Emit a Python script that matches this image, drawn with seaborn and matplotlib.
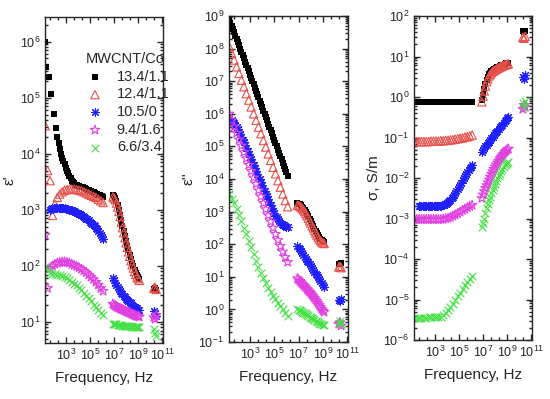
import numpy as np
import pandas as pd
import matplotlib
matplotlib.use("Agg")
import matplotlib.pyplot as plt
import matplotlib.ticker as mticker
import seaborn as sns

# ---------------- data (log10 values) ----------------
LOGF_LOW_FINE = [1.3, 1.4, 1.5, 1.6, 1.7, 1.8, 1.9, 2.0, 2.1, 2.2, 2.3, 2.4, 2.5, 2.6, 2.7, 2.8,
                 2.9, 3.0, 3.1, 3.2, 3.3, 3.4, 3.5, 3.6, 3.7, 3.8, 3.9, 4.0, 4.1, 4.2, 4.3, 4.4,
                 4.5, 4.6, 4.7, 4.8, 4.9, 5.0, 5.1, 5.2, 5.3, 5.4, 5.5, 5.6, 5.7, 5.8, 5.9, 6.0, 6.1]
LOGF_LOW_COARSE = [1.3, 1.5, 1.7, 1.9, 2.1, 2.3, 2.5, 2.7, 2.9, 3.1, 3.3, 3.5, 3.7, 3.9, 4.1,
                   4.3, 4.5, 4.7, 4.9, 5.1, 5.3, 5.5, 5.7, 5.9, 6.1]
LOGF_MID = [6.9, 7.0, 7.1, 7.2, 7.3, 7.4, 7.5, 7.6, 7.7, 7.8, 7.9, 8.0, 8.1, 8.2, 8.3, 8.4,
            8.5, 8.6, 8.7, 8.8, 8.9, 9.0, 9.1]
LOGF_HIGH = [10.3, 10.4, 10.5]

SERIES = ["13.4/1.1", "12.4/1.1", "10.5/0", "9.4/1.6", "6.6/3.4"]
FINE_SERIES = ["13.4/1.1", "10.5/0"]

# panel 1: eps'   (fine series: 49 low + 23 mid + 3 high; coarse: 25 + 23 + 3)
EPS1_BLACK = [6.0, 5.55, None, 5.37, None, 5.07, None, 4.71, None, 4.46,
              4.3, 4.19, 4.08, 4.0, 3.93, 3.87, 3.81, 3.75, 3.7, 3.65,
              3.6, 3.56, 3.52, 3.49, 3.47, 3.45, 3.44, 3.43, 3.42, 3.41,
              3.41, 3.4, 3.39, 3.38, 3.37, 3.36, 3.35, 3.34, 3.33, 3.32,
              3.31, 3.3, 3.29, 3.28, 3.27, 3.26, 3.25, 3.24, 3.22,
              3.26, 3.24, 3.21, 3.15, 3.08, 3.0, 2.91, 2.81, 2.71, 2.62, 2.53, 2.44,
              2.36, 2.28, 2.2, 2.12, 2.05, 1.99, 1.93, 1.88, 1.83, 1.8, 1.77,
              1.58, 1.6, 1.57]
EPS1_RED = [4.5, 3.7, 3.52, 2.9, 3.1, 3.22, 3.28, 3.32, 3.35, 3.36, 3.37, 3.37, 3.37, 3.36, 3.35,
            3.34, 3.32, 3.3, 3.28, 3.26, 3.24, 3.22, 3.19, 3.16, 3.13,
            3.23, 3.21, 3.18, 3.12, 3.05, 2.97, 2.88, 2.78, 2.68, 2.59, 2.5, 2.41,
            2.33, 2.25, 2.17, 2.09, 2.02, 1.96, 1.9, 1.85, 1.8, 1.77, 1.74,
            1.6, 1.62, 1.58]
EPS1_BLUE = [None, None, None, None, 3.0, 3.02, 3.03, 3.03, 3.04, 3.04,
             3.04, 3.04, 3.04, 3.04, 3.03, 3.03, 3.03, 3.02, 3.02, 3.01,
             3.0, 3.0, 2.99, 2.98, 2.97, 2.96, 2.95, 2.94, 2.93, 2.92,
             2.9, 2.89, 2.87, 2.86, 2.84, 2.83, 2.81, 2.79, 2.77, 2.75,
             2.73, 2.71, 2.68, 2.65, 2.62, 2.59, 2.55, 2.52, 2.48,
             1.78, 1.74, 1.7, 1.66, 1.62, 1.58, 1.55, 1.52, 1.49, 1.46, 1.44, 1.41,
             1.39, 1.37, 1.35, 1.33, 1.31, 1.29, 1.27, 1.25, 1.24, 1.22, 1.21,
             1.2, 1.15, 1.1]
EPS1_MAGENTA = [2.55, 1.6, 1.95, 2.0, 2.03, 2.05, 2.06, 2.07, 2.07, 2.06, 2.05, 2.03, 2.01, 1.99, 1.97,
                1.94, 1.91, 1.88, 1.84, 1.8, 1.76, 1.71, 1.66, 1.6, 1.55,
                1.32, 1.3, 1.29, 1.27, 1.26, 1.25, 1.24, 1.23, 1.22, 1.21, 1.2, 1.19,
                1.18, 1.17, 1.16, 1.15, 1.14, 1.13, 1.12, 1.11, 1.1, 1.1, 1.09,
                1.08, 1.05, 1.12]
EPS1_GREEN = [1.98, 1.92, 1.88, 1.86, 1.85, 1.84, 1.83, 1.82, 1.8, 1.78, 1.75, 1.72, 1.68, 1.65, 1.61,
              1.57, 1.52, 1.47, 1.42, 1.37, 1.31, 1.26, 1.21, 1.16, 1.12,
              0.97, 0.97, 0.96, 0.96, 0.95, 0.95, 0.94, 0.94, 0.93, 0.93, 0.93, 0.93,
              0.92, 0.92, 0.92, 0.92, 0.91, 0.91, 0.91, 0.9, 0.9, 0.9, 0.9,
              0.88, 0.8, 0.75]

# panel 2: eps''
EPS2_BLACK = [8.9, 8.8, 8.7, 8.6, 8.5, 8.4, 8.3, 8.2, 8.1, 8.0,
              7.9, 7.8, 7.7, 7.6, 7.5, 7.4, 7.3, 7.2, 7.1, 7.0,
              6.9, 6.8, 6.7, 6.6, 6.5, 6.4, 6.3, 6.2, 6.1, 6.0,
              5.9, 5.8, 5.7, 5.6, 5.5, 5.4, 5.3, 5.2, 5.1, 5.0,
              4.9, 4.8, 4.7, 4.6, 4.5, 4.4, 4.3, 4.2, 4.1,
              3.25, 3.24, 3.22, 3.19, 3.15, 3.1, 3.05, 2.99, 2.92, 2.85, 2.77, 2.7,
              2.62, 2.55, 2.47, 2.4, 2.33, 2.27, 2.21, 2.16, 2.12, 2.09, 2.07,
              1.4, 1.38, 1.42]
EPS2_RED = [8.06, 7.85, 7.65, 7.44, 7.24, 7.03, 6.83, 6.62, 6.42, 6.21, 6.0, 5.8, 5.59, 5.39, 5.18,
            4.98, 4.77, 4.57, 4.36, 4.16, 3.95, 3.75, 3.54, 3.34, 3.15,
            3.2, 3.19, 3.17, 3.14, 3.1, 3.05, 3.0, 2.94, 2.87, 2.8, 2.72, 2.65,
            2.57, 2.5, 2.42, 2.35, 2.28, 2.22, 2.16, 2.11, 2.07, 2.04, 2.02,
            1.3, 1.32, 1.28]
EPS2_BLUE = [None, None, 5.8, 5.76, 5.72, 5.66, 5.6, 5.53, 5.45, 5.38,
             5.3, 5.21, 5.12, 5.04, 4.95, 4.86, 4.77, 4.69, 4.6, 4.51,
             4.42, 4.34, 4.25, 4.16, 4.07, 3.99, 3.9, 3.81, 3.72, 3.64,
             3.55, 3.47, 3.38, 3.29, 3.2, 3.12, 3.03, 2.95, 2.88, 2.82,
             2.76, 2.71, 2.66, 2.63, 2.6, 2.58, 2.56, 2.54, 2.52,
             1.95, 1.89, 1.84, 1.78, 1.72, 1.67, 1.61, 1.55, 1.49, 1.44, 1.38, 1.32,
             1.27, 1.21, 1.15, 1.1, 1.04, 0.98, 0.92, 0.87, 0.81, 0.75, 0.7,
             0.3, 0.25, 0.32]
EPS2_MAGENTA = [6.0, 5.8, 5.6, 5.41, 5.21, 5.02, 4.82, 4.63, 4.43, 4.24, 4.04, 3.85, 3.65, 3.46, 3.26,
                3.07, 2.88, 2.69, 2.5, 2.31, 2.12, 1.94, 1.77, 1.6, 1.45,
                0.95, 0.91, 0.87, 0.83, 0.79, 0.75, 0.71, 0.67, 0.62, 0.58, 0.54, 0.5,
                0.45, 0.4, 0.35, 0.3, 0.25, 0.19, 0.13, 0.07, 0.01, -0.04, -0.08,
                -0.45, -0.4, -0.5]
EPS2_GREEN = [3.55, 3.4, 3.25, 3.08, 2.9, 2.7, 2.5, 2.3, 2.1, 1.9, 1.7, 1.5, 1.3, 1.12, 0.95,
              0.8, 0.66, 0.54, 0.42, 0.31, 0.2, 0.1, 0.0, -0.1, -0.2,
              0.0, -0.01, -0.03, -0.05, -0.07, -0.1, -0.12, -0.15, -0.17, -0.2, -0.22, -0.25,
              -0.27, -0.3, -0.32, -0.35, -0.37, -0.4, -0.42, -0.44, -0.45, -0.47, -0.48,
              -0.43, -0.35, -0.45]

# panel 3: sigma
SIG_BLACK = [-0.12, -0.13, -0.13, -0.13, -0.13, -0.13, -0.13, -0.13, -0.13, -0.13,
             -0.13, -0.13, -0.13, -0.13, -0.13, -0.13, -0.13, -0.13, -0.13, -0.13,
             -0.13, -0.13, -0.13, -0.13, -0.13, -0.13, -0.13, -0.13, -0.13, -0.13,
             -0.13, -0.13, -0.13, -0.13, -0.13, -0.13, -0.13, -0.13, -0.13, -0.13,
             -0.13, -0.13, -0.13, -0.13, -0.13, -0.13, -0.13, -0.13, -0.13,
             -0.08, 0.06, 0.2, 0.31, 0.42, 0.49, 0.56, 0.6, 0.63, 0.66, 0.68, 0.7,
             0.72, 0.74, 0.75, 0.77, 0.78, 0.79, 0.8, 0.82, 0.83, 0.84, 0.85,
             1.64, 1.6, 1.62]
SIG_RED = [-1.1, -1.1, -1.1, -1.1, -1.1, -1.1, -1.1, -1.09, -1.09, -1.09, -1.09, -1.08, -1.08,
           -1.07, -1.07, -1.06, -1.05, -1.04, -1.03, -1.02, -1.01, -0.99, -0.98, -0.96, -0.94,
           -0.12, 0.02, 0.15, 0.27, 0.38, 0.45, 0.52, 0.56, 0.6, 0.63, 0.65, 0.67,
           0.69, 0.71, 0.72, 0.74, 0.75, 0.77, 0.78, 0.79, 0.8, 0.81, 0.82,
           1.47, 1.45, 1.5]
SIG_BLUE = [None, None, None, None, -2.68, -2.68, -2.68, -2.68, -2.68, -2.68,
            -2.68, -2.68, -2.68, -2.68, -2.68, -2.68, -2.68, -2.68, -2.68, -2.68,
            -2.68, -2.68, -2.68, -2.675, -2.67, -2.66, -2.64, -2.62, -2.6, -2.57,
            -2.54, -2.5, -2.46, -2.42, -2.37, -2.32, -2.27, -2.22, -2.17, -2.12,
            -2.06, -2.0, -1.95, -1.9, -1.85, -1.8, -1.76, -1.72, -1.68,
            -1.35, -1.31, -1.27, -1.22, -1.18, -1.14, -1.1, -1.06, -1.02, -0.98, -0.94, -0.9,
            -0.86, -0.83, -0.79, -0.75, -0.71, -0.68, -0.64, -0.6, -0.57, -0.53, -0.5,
            0.5, 0.45, 0.55]
SIG_MAGENTA = [-3.02, -3.02, -3.02, -3.02, -3.02, -3.02, -3.02, -3.02, -3.02, -3.02, -3.02, -3.02, -3.02,
               -3.0, -2.99, -2.97, -2.94, -2.91, -2.88, -2.84, -2.8, -2.77, -2.73, -2.7, -2.67,
               -2.5, -2.41, -2.33, -2.25, -2.18, -2.11, -2.04, -1.97, -1.9, -1.84, -1.78, -1.72,
               -1.67, -1.62, -1.57, -1.52, -1.48, -1.44, -1.4, -1.36, -1.33, -1.3, -1.28,
               -0.3, -0.2, -0.25]
SIG_GREEN = [-5.45, -5.45, -5.45, -5.45, -5.45, -5.45, -5.44, -5.44, -5.44, -5.44, -5.44,
             -5.42, -5.38, -5.33, -5.26, -5.18, -5.1, -5.01, -4.92, -4.83, -4.74, -4.65, -4.57, -4.49, -4.42,
             -3.2, -3.1, -3.0, -2.87, -2.75, -2.65, -2.55, -2.46, -2.38, -2.3, -2.22, -2.15,
             -2.08, -2.01, -1.95, -1.89, -1.83, -1.77, -1.72, -1.68, -1.65, -1.62, -1.6,
             -0.15, -0.25, -0.1]

X_TICKS = [1e3, 1e5, 1e7, 1e9, 1e11]
XLABEL = "Frequency, Hz"
YLABELS = ["\u03b5'", "\u03b5''", "\u03c3, S/m"]
LEGEND_TITLE = "MWCNT/Co"

# ---------------- style ----------------
sns.set_style("ticks")
plt.rcParams["font.family"] = ["Liberation Sans", "DejaVu Sans"]
plt.rcParams["mathtext.fontset"] = "custom"
plt.rcParams["mathtext.rm"] = "Liberation Sans"
plt.rcParams["mathtext.it"] = "Liberation Sans:italic"

STYLES = [
    dict(marker="s", s=18, color="#000000", linewidth=0),
    dict(marker="^", s=36, facecolor="none", edgecolor="#e8504a", linewidth=0.8),
    dict(marker=(8, 2, 0), s=34, color="#2020ff", linewidth=0.8),
    dict(marker="*", s=50, facecolor="none", edgecolor="#e040e0", linewidth=0.8),
    dict(marker="x", s=30, color="#44e044", linewidth=0.8),
]

panels = [
    [EPS1_BLACK, EPS1_RED, EPS1_BLUE, EPS1_MAGENTA, EPS1_GREEN],
    [EPS2_BLACK, EPS2_RED, EPS2_BLUE, EPS2_MAGENTA, EPS2_GREEN],
    [SIG_BLACK, SIG_RED, SIG_BLUE, SIG_MAGENTA, SIG_GREEN],
]
ylims = [(4.2, 2.75e6), (1e-1, 1e9), (1e-6, 1e2)]
rects = [
    [45 / 550, 1 - 343 / 399, 118 / 550, 326 / 399],
    [229 / 550, 1 - 342 / 399, 119 / 550, 326 / 399],
    [414 / 550, 1 - 340 / 399, 118 / 550, 324 / 399],
]

fig = plt.figure(figsize=(5.5, 3.99), dpi=100)
freq_fine = 10.0 ** np.array(LOGF_LOW_FINE + LOGF_MID + LOGF_HIGH)
freq_coarse = 10.0 ** np.array(LOGF_LOW_COARSE + LOGF_MID + LOGF_HIGH)

for pi, (series_vals, rect) in enumerate(zip(panels, rects)):
    ax = fig.add_axes(rect)
    for name, vals, st in zip(SERIES, series_vals, STYLES):
        f = freq_fine if name in FINE_SERIES else freq_coarse
        v = np.array(vals, dtype=float)
        df = pd.DataFrame({"f": f, "v": 10.0 ** v}).dropna()
        sns.scatterplot(data=df, x="f", y="v", ax=ax, label=name, legend=False, **st)
    ax.set_xscale("log")
    ax.set_yscale("log")
    ax.set_xlim(19, 1.15e11)
    ax.set_ylim(*ylims[pi])
    ax.xaxis.set_major_locator(mticker.FixedLocator(X_TICKS))
    minors = []
    for e in [1, 3, 5, 7, 9]:
        minors += [10 ** (e + 2 / 3), 10 ** (e + 4 / 3)]
    ax.xaxis.set_minor_locator(mticker.FixedLocator(minors))
    ax.xaxis.set_minor_formatter(mticker.NullFormatter())
    ax.yaxis.set_major_locator(mticker.LogLocator(base=10, numticks=20))
    ax.yaxis.set_minor_locator(mticker.LogLocator(base=10, subs=np.arange(2, 10), numticks=20))
    ax.yaxis.set_minor_formatter(mticker.NullFormatter())
    ax.tick_params(which="both", direction="in", top=True, right=True, labelsize=9,
                   width=1.0)
    ax.tick_params(which="major", length=4)
    ax.tick_params(which="minor", length=2.5)
    for sp in ax.spines.values():
        sp.set_linewidth(1.0)
    ax.set_xlabel(XLABEL, fontsize=11, labelpad=6)
    ax.set_ylabel(YLABELS[pi], fontsize=11, labelpad=2)
    if pi == 0:
        ax.legend(title=LEGEND_TITLE, loc="upper left", bbox_to_anchor=(0.30, 0.91),
                  frameon=False, fontsize=10.5, title_fontsize=10.5,
                  borderaxespad=0, handletextpad=0.9, labelspacing=0.25,
                  handlelength=1.2, alignment="left")

fig.savefig("out.png", dpi=100)
